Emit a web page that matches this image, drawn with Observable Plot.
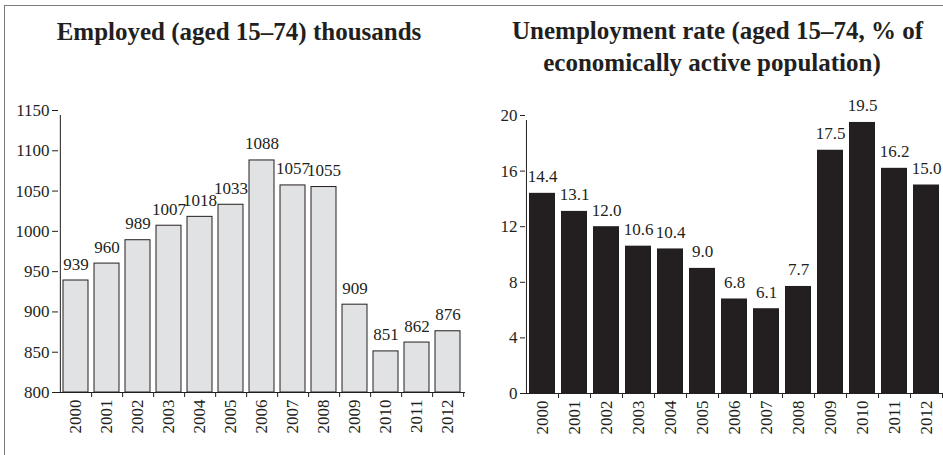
<!DOCTYPE html>
<html>
<head>
<meta charset="utf-8">
<script src="https://cdn.jsdelivr.net/npm/d3@7"></script>
<script src="https://cdn.jsdelivr.net/npm/@observablehq/plot@0.6"></script>
<style>
  html, body { margin: 0; padding: 0; background: #fff; }
  #wrap { position: relative; width: 943px; height: 455px; overflow: hidden; font-family: "Liberation Serif", serif; color: #231f20; }
  #frame { position: absolute; left: 4px; top: 5px; width: 1000px; height: 500px; border-left: 1.5px solid #7a7a7a; border-top: 1.5px solid #7a7a7a; }
  .title { position: absolute; font-weight: bold; font-size: 25px; text-align: center; line-height: 32px; white-space: nowrap; }
  .panel { position: absolute; top: 80px; }
</style>
</head>
<body>
<div id="wrap">
  <div id="frame"></div>
  <div class="title" id="t1" style="left:39px; width:400px; top:16px;"></div>
  <div class="title" id="t2" style="left:512px; width:400px; top:15px;"></div>
  <div class="panel" id="p1" style="left:0px;"></div>
  <div class="panel" id="p2" style="left:470px;"></div>
</div>
<script>
const years = ["2000","2001","2002","2003","2004","2005","2006","2007","2008","2009","2010","2011","2012"];
const employed = [939, 960, 989, 1007, 1018, 1033, 1088, 1057, 1055, 909, 851, 862, 876];
const unemployment = [14.4, 13.1, 12.0, 10.6, 10.4, 9.0, 6.8, 6.1, 7.7, 17.5, 19.5, 16.2, 15.0];
const employedTicks = [800, 850, 900, 950, 1000, 1050, 1100, 1150];
const unemploymentTicks = [0, 4, 8, 12, 16, 20];
const titleLeft = "Employed (aged 15–74) thousands";
const titleRight = ["Unemployment rate (aged 15–74, % of", "economically active population)"];

document.getElementById("t1").textContent = titleLeft;
document.getElementById("t2").innerHTML = titleRight.join("<br>");

const ink = "#231f20";

function panel({values, ticks, fmt, fill, stroke, width, height, mL, mR, mT, mB, tickSize}) {
  const data = years.map((y, i) => ({year: y, value: values[i]}));
  const step = (width - mL - mR) / years.length;
  const y0 = ticks[0];
  return Plot.plot({
    width, height,
    marginLeft: mL, marginRight: mR, marginTop: mT, marginBottom: mB,
    style: {fontFamily: "Liberation Serif", fontSize: "17px", color: ink, background: "transparent", overflow: "visible"},
    x: {type: "band", domain: years, paddingInner: 0.2, paddingOuter: 0.1, label: null},
    y: {domain: [ticks[0], ticks[ticks.length - 1]], label: null},
    marks: [
      Plot.barY(data, {x: "year", y1: () => y0, y2: "value", fill, stroke, strokeWidth: 1}),
      Plot.ruleY([y0], {stroke: ink, strokeWidth: 1}),
      Plot.ruleX([years[0]], {x: d => d, y1: () => y0, y2: () => ticks[ticks.length - 1], dx: -step / 2, insetBottom: -5, stroke: ink, strokeWidth: 1}),
      Plot.ruleX(years, {x: d => d, y1: () => y0, y2: () => y0, dx: step / 2, insetBottom: -5, stroke: ink, strokeWidth: 1}),
      Plot.axisY({ticks, tickSize, tickPadding: 3, label: null, fontSize: 17, tickFormat: d => String(d)}),
      Plot.axisX({tickSize: 0, tickRotate: -90, tickPadding: 7, label: null, fontSize: 17}),
      Plot.text(data, {x: "year", y: "value", text: d => fmt(d.value), lineAnchor: "bottom", dy: -11, fontSize: 17, fill: ink})
    ]
  });
}

document.getElementById("p1").append(panel({
  values: employed, ticks: employedTicks, fmt: d => String(d),
  fill: "#e1e2e3", stroke: ink, width: 470, height: 375, mL: 58, mR: 5, mT: 30, mB: 63, tickSize: 6
}));
document.getElementById("p2").append(panel({
  values: unemployment, ticks: unemploymentTicks, fmt: d => d.toFixed(1),
  fill: ink, stroke: "none", width: 473, height: 375, mL: 55, mR: 1, mT: 35, mB: 62, tickSize: 5
}));
</script>
</body>
</html>
